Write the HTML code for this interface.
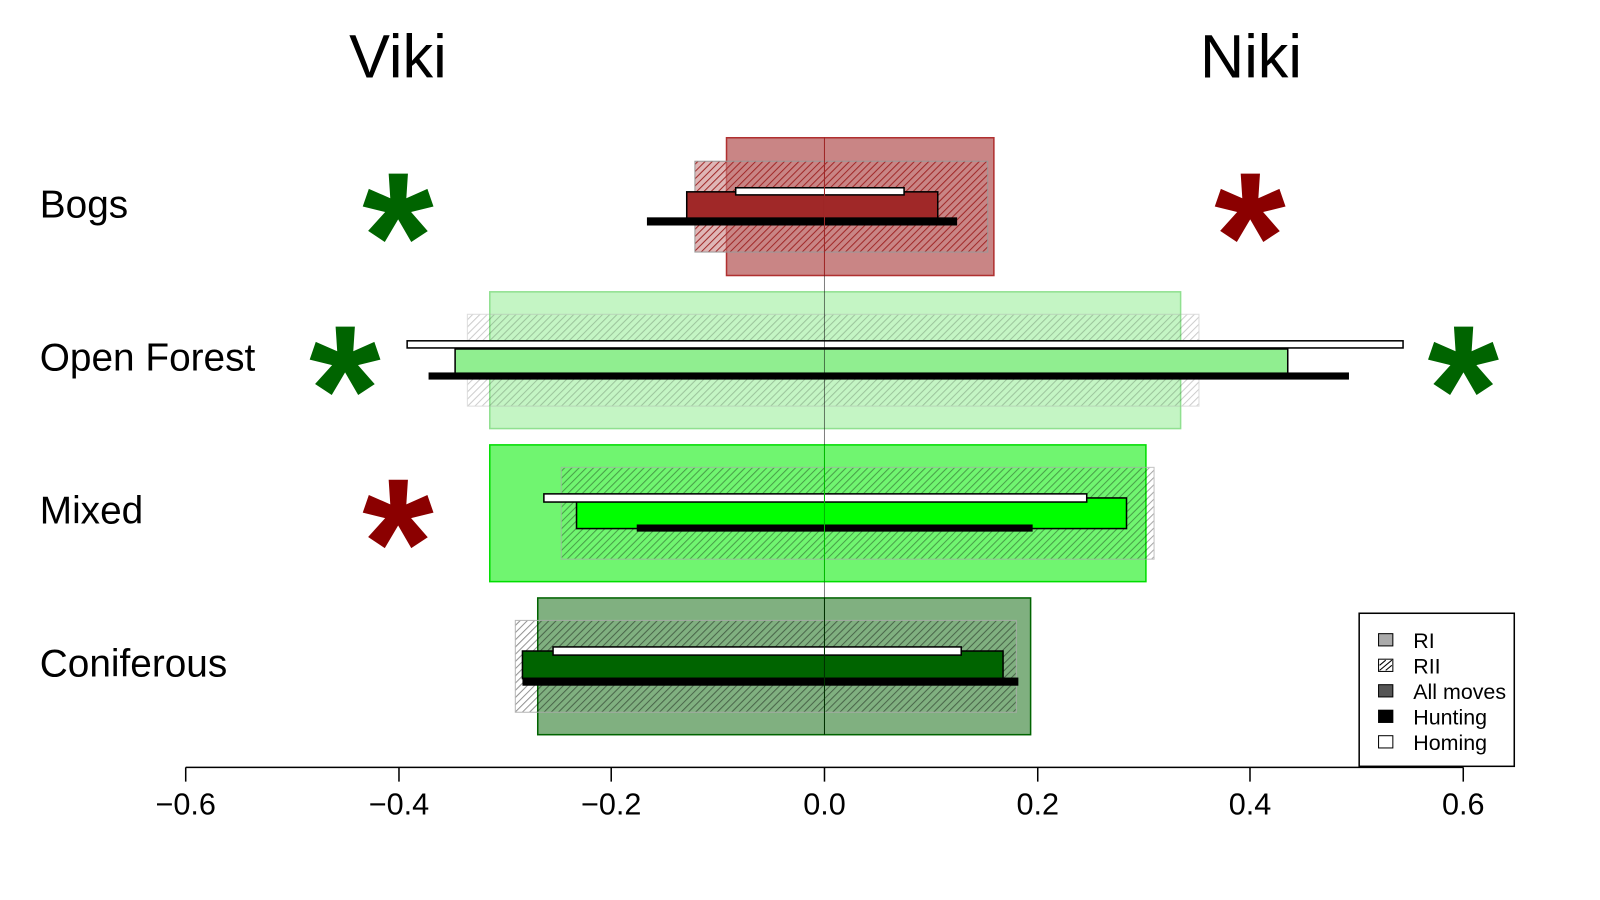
<!DOCTYPE html><html><head><style>body{margin:0;background:#fff}svg{display:block}text{font-family:"Liberation Sans",sans-serif}</style></head><body>
<svg width="1600" height="900" xmlns="http://www.w3.org/2000/svg">
<defs>
<pattern id="h" width="5" height="5" patternUnits="userSpaceOnUse" patternTransform="rotate(45)"><line x1="0" y1="0" x2="0" y2="5" stroke="#000" stroke-width="2" opacity="0.5"/></pattern>
<pattern id="hr" width="5" height="5" patternUnits="userSpaceOnUse" patternTransform="rotate(45)"><line x1="0" y1="0" x2="0" y2="5" stroke="#a02828" stroke-width="2"/></pattern>
</defs>
<g transform="scale(1.0204)">
<text x="390" y="76" font-size="60" text-anchor="middle">Viki</text>
<text x="1226" y="76" font-size="60" text-anchor="middle">Niki</text>
<g font-size="38"><text x="39" y="213">Bogs</text><text x="39" y="363">Open Forest</text><text x="39" y="513">Mixed</text><text x="39" y="663">Coniferous</text></g>
<g font-size="180" font-weight="bold" text-anchor="middle">
<text x="390" y="294" fill="#006400">*</text><text x="1225" y="294" fill="#8b0000">*</text>
<text x="338" y="444" fill="#006400">*</text><text x="1434" y="444" fill="#006400">*</text>
<text x="390" y="594" fill="#8b0000">*</text></g>
<!-- Bogs -->
<rect x="712" y="135" width="262" height="135" fill="#c98585" stroke="#b03030" stroke-width="1.5"/>
<rect x="681" y="158" width="287" height="89" fill="#c98585" opacity="0.6"/>
<rect x="681" y="158" width="287" height="89" fill="url(#hr)" stroke="#999"/>
<rect x="673" y="188" width="246" height="26" fill="#a02828" stroke="#000" stroke-width="1.5"/>
<rect x="721" y="184" width="165" height="7" fill="#fff" stroke="#000" stroke-width="1.5"/>
<rect x="634" y="213" width="304" height="8" fill="#000"/>
<!-- Open Forest -->
<rect x="480" y="286" width="677" height="134" fill="#c4f5c4" stroke="#90e090" stroke-width="1.5"/>
<rect x="458" y="308" width="717" height="90" fill="url(#h)" opacity="0.4" stroke="#aaa"/>
<rect x="446" y="342" width="816" height="26" fill="#90ee90" stroke="#000" stroke-width="1.5"/>
<rect x="399" y="334" width="976" height="7" fill="#fff" stroke="#000" stroke-width="1.5"/>
<rect x="420" y="365" width="902" height="7" fill="#000"/>
<!-- Mixed -->
<rect x="480" y="436" width="643" height="134" fill="#70f570" stroke="#00dd00" stroke-width="1.5"/>
<rect x="550" y="458" width="581" height="90" fill="url(#h)" opacity="0.7" stroke="#aaa"/>
<rect x="565" y="488" width="539" height="30" fill="#00ff00" stroke="#000" stroke-width="1.5"/>
<rect x="533" y="484" width="532" height="8" fill="#fff" stroke="#000" stroke-width="1.5"/>
<rect x="624" y="514" width="388" height="7" fill="#000"/>
<!-- Coniferous -->
<rect x="527" y="586" width="483" height="134" fill="#80b080" stroke="#006400" stroke-width="1.5"/>
<rect x="505" y="608" width="491" height="90" fill="url(#h)" opacity="0.85" stroke="#aaa"/>
<rect x="512" y="638" width="471" height="27" fill="#006400" stroke="#000" stroke-width="1.5"/>
<rect x="542" y="634" width="400" height="8" fill="#fff" stroke="#000" stroke-width="1.5"/>
<rect x="512" y="664" width="486" height="8" fill="#000"/>
<!-- center line -->
<line x1="808" y1="135" x2="808" y2="720" stroke="#000" stroke-width="1" opacity="0.5"/>
<line x1="808" y1="135" x2="808" y2="270" stroke="#a02828"/>
<line x1="808" y1="436" x2="808" y2="570" stroke="#00bb00"/>
<line x1="808" y1="586" x2="808" y2="720" stroke="#003000"/>
<!-- axis -->
<g stroke="#000" stroke-width="1.5"><line x1="182" y1="752" x2="1434" y2="752"/>
<line x1="182" y1="752" x2="182" y2="766"/><line x1="391" y1="752" x2="391" y2="766"/><line x1="599" y1="752" x2="599" y2="766"/><line x1="808" y1="752" x2="808" y2="766"/><line x1="1017" y1="752" x2="1017" y2="766"/><line x1="1225" y1="752" x2="1225" y2="766"/><line x1="1434" y1="752" x2="1434" y2="766"/></g>
<g font-size="30" text-anchor="middle"><text x="182" y="798">−0.6</text><text x="391" y="798">−0.4</text><text x="599" y="798">−0.2</text><text x="808" y="798">0.0</text><text x="1017" y="798">0.2</text><text x="1225" y="798">0.4</text><text x="1434" y="798">0.6</text></g>
<!-- legend -->
<rect x="1332" y="601" width="152" height="150" fill="#fff" stroke="#000" stroke-width="1.5"/>
<rect x="1351" y="621" width="14" height="12" fill="#aaa" stroke="#000"/>
<rect x="1351" y="646" width="14" height="12" fill="#fff" stroke="#000"/><line x1="1352" y1="657" x2="1364" y2="647" stroke="#000"/><line x1="1352" y1="652" x2="1358" y2="647" stroke="#000"/><line x1="1358" y1="657" x2="1364" y2="652" stroke="#000"/>
<rect x="1351" y="671" width="14" height="12" fill="#555" stroke="#000"/>
<rect x="1351" y="696" width="14" height="12" fill="#000" stroke="#000"/>
<rect x="1351" y="721" width="14" height="12" fill="#fff" stroke="#000"/>
<g font-size="21"><text x="1385" y="635">RI</text><text x="1385" y="660">RII</text><text x="1385" y="685">All moves</text><text x="1385" y="710">Hunting</text><text x="1385" y="735">Homing</text></g>
</g>
</svg></body></html>
